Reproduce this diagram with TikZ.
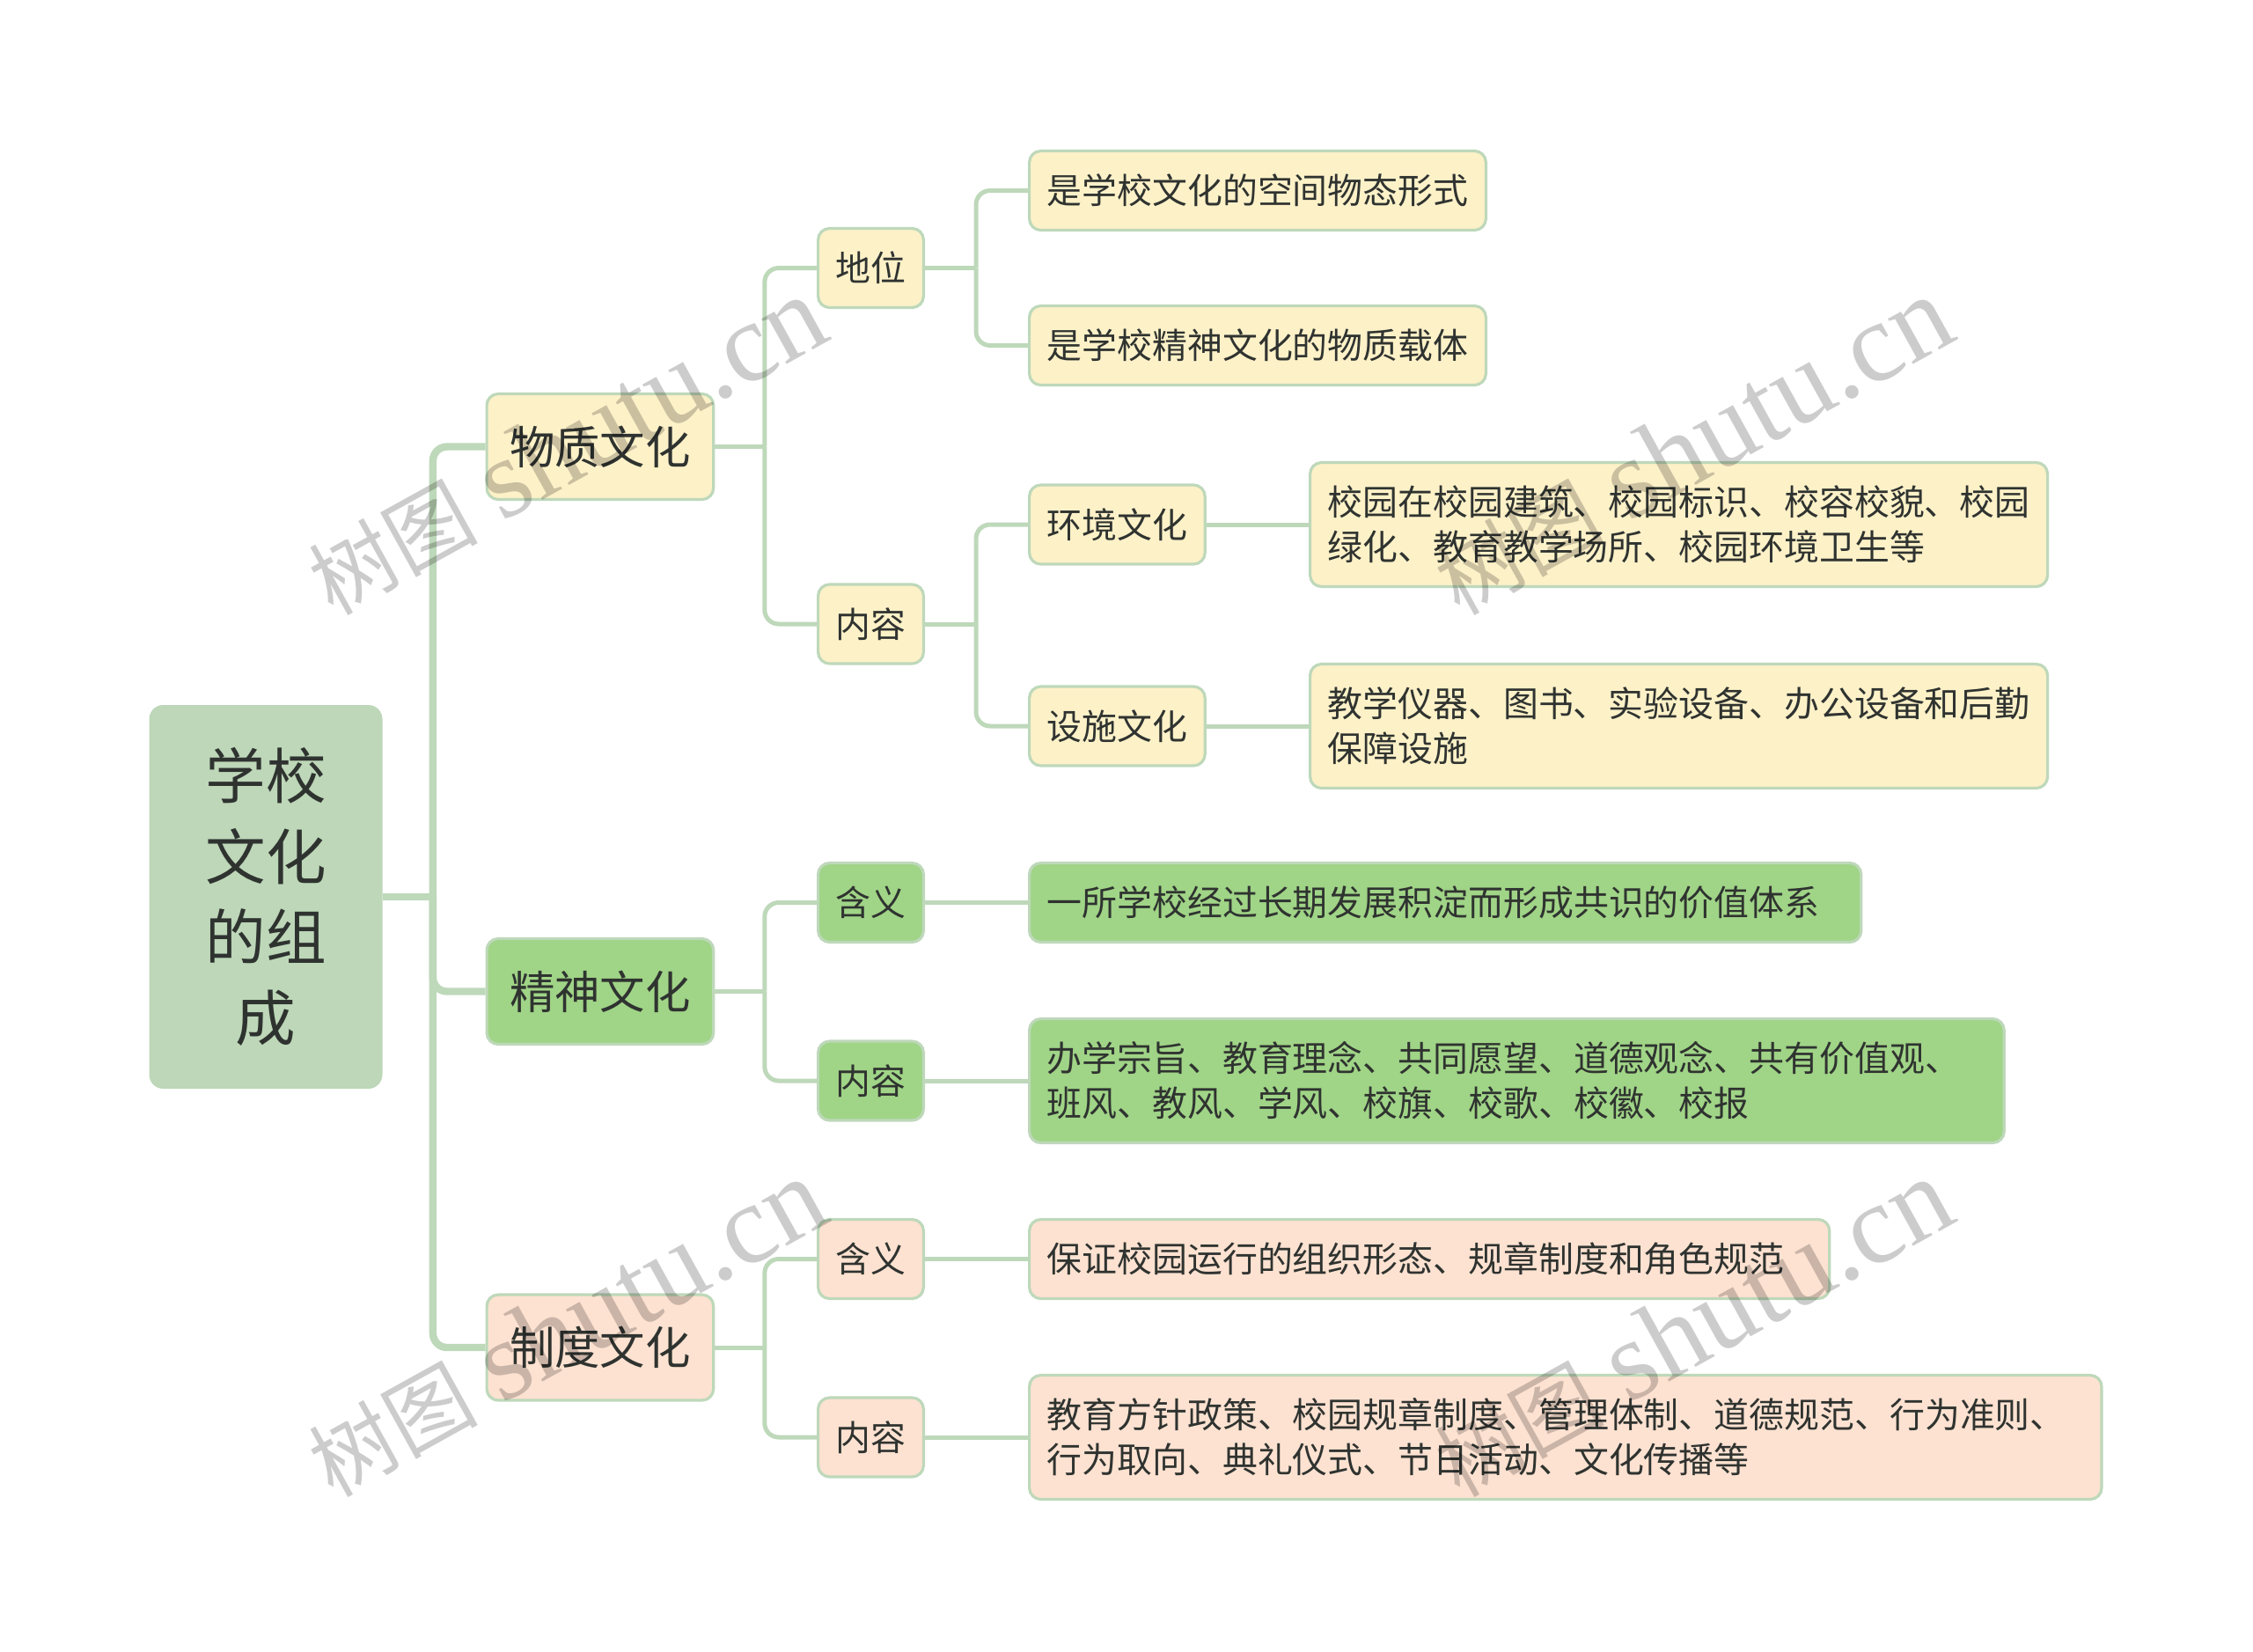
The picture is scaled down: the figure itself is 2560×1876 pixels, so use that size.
\documentclass[tikz,border=0pt]{standalone}
\usepackage{fontspec}
\setmainfont{Noto Sans CJK SC}
\newfontfamily\wmfont{Liberation Serif}
\definecolor{linegreen}{HTML}{BED8BA}
\definecolor{rootfill}{HTML}{BDD7B8}
\definecolor{yellowfill}{HTML}{FDF1C8}
\definecolor{greenfill}{HTML}{A0D487}
\definecolor{peachfill}{HTML}{FDE2D1}
\definecolor{inkcolor}{HTML}{2F3330}
\newcommand{\wmtext}{{\fontsize{48}{66}\selectfont 树图} \hspace{12pt}{\wmfont\fontsize{64}{66}\selectfont shutu.cn}}
\tikzset{
	rootbox/.style={fill=rootfill, rounded corners=8pt, minimum width=132.5pt, minimum height=218pt, inner sep=0pt, align=center, text=inkcolor, font=\fontsize{34.3}{45.8}\selectfont},
	topicbox/.style={draw=linegreen, line width=1.6pt, rounded corners=6.5pt, anchor=west, minimum height=60pt, inner xsep=13pt, inner ysep=0pt, text=inkcolor, font=\fontsize{25.7}{30}\selectfont},
	itembox/.style={draw=linegreen, line width=1.6pt, rounded corners=6.5pt, anchor=west, minimum height=45pt, inner xsep=10pt, inner ysep=0pt, align=left, text=inkcolor, font=\fontsize{19.95}{25.5}\selectfont},
	textbox/.style={itembox, minimum height=70.5pt},
	trunk/.style={draw=linegreen, line width=4.2pt, rounded corners=8pt},
	branch/.style={draw=linegreen, line width=2.5pt, rounded corners=8pt},
	wmark/.style={rotate=29, text=black, text opacity=0.2}
}
\begin{document}
\begin{tikzpicture}[x=0.5pt, y=-0.5pt]
	\useasboundingbox (0,0) rectangle (2560,1876);
	\node [rootbox] (root) at (302,1019) {学校\\文化\\的组\\成};

	\node [topicbox, fill=yellowfill] (wuzhi) at (551.5,507.5) {物质文化};
	\node [topicbox, fill=greenfill] (jingshen) at (551.5,1126.5) {精神文化};
	\node [topicbox, fill=peachfill] (zhidu) at (551.5,1531) {制度文化};

	\node [itembox, fill=yellowfill] (diwei) at (928,304.5) {地位};
	\node [itembox, fill=yellowfill] (neirongA) at (928,709) {内容};
	\node [itembox, fill=greenfill] (hanyiB) at (928,1025.5) {含义};
	\node [itembox, fill=greenfill] (neirongB) at (928,1228) {内容};
	\node [itembox, fill=peachfill] (hanyiC) at (928,1430.5) {含义};
	\node [itembox, fill=peachfill] (neirongC) at (928,1633) {内容};

	\node [itembox, fill=yellowfill] (kongjian) at (1168,216.5) {是学校文化的空间物态形式};
	\node [itembox, fill=yellowfill] (zaiti) at (1168,392.5) {是学校精神文化的物质载体};
	\node [itembox, fill=yellowfill] (huanjing) at (1168,596) {环境文化};
	\node [itembox, fill=yellowfill] (sheshi) at (1168,825) {设施文化};
	\node [textbox, fill=yellowfill] (huanjingtext) at (1487,596) {校园在校园建筑、校园标识、校容校貌、校园\\绿化、教育教学场所、校园环境卫生等};
	\node [textbox, fill=yellowfill] (sheshitext) at (1487,825) {教学仪器、图书、实验设备、办公设备和后勤\\保障设施};
	\node [itembox, fill=greenfill, text width=452.6pt] (hanyiBtext) at (1168,1025.5) {一所学校经过长期发展积淀而形成共识的价值体系};
	\node [textbox, fill=greenfill, text width=533.8pt] (neirongBtext) at (1168,1228) {办学宗旨、教育理念、共同愿望、道德观念、共有价值观、\\班风、教风、学风、校旗、校歌、校徽、校报};
	\node [itembox, fill=peachfill, text width=434.6pt] (hanyiCtext) at (1168,1430.5) {保证校园运行的组织形态、规章制度和角色规范};
	\node [textbox, fill=peachfill, text width=589.2pt] (neirongCtext) at (1168,1633) {教育方针政策、校园规章制度、管理体制、道德规范、行为准则、\\行为取向、典礼仪式、节日活动、文化传播等};

	\path (root.east) ++(57,0) coordinate (rootfork);
	\path (wuzhi.east) ++(56.5,0) coordinate (wuzhifork);
	\path (jingshen.east) ++(56.5,0) coordinate (jingshenfork);
	\path (zhidu.east) ++(56.5,0) coordinate (zhidufork);
	\path (diwei.east) ++(58,0) coordinate (diweifork);
	\path (neirongA.east) ++(58,0) coordinate (neirongfork);

	\draw [trunk] (root.east) -- (rootfork);
	\draw [trunk] (rootfork) |- (wuzhi.west);
	\draw [trunk] (rootfork) |- (jingshen.west);
	\draw [trunk] (rootfork) |- (zhidu.west);

	\draw [branch] (wuzhi.east) -- (wuzhifork);
	\draw [branch] (wuzhifork) |- (diwei.west);
	\draw [branch] (wuzhifork) |- (neirongA.west);
	\draw [branch] (jingshen.east) -- (jingshenfork);
	\draw [branch] (jingshenfork) |- (hanyiB.west);
	\draw [branch] (jingshenfork) |- (neirongB.west);
	\draw [branch] (zhidu.east) -- (zhidufork);
	\draw [branch] (zhidufork) |- (hanyiC.west);
	\draw [branch] (zhidufork) |- (neirongC.west);

	\draw [branch] (diwei.east) -- (diweifork);
	\draw [branch] (diweifork) |- (kongjian.west);
	\draw [branch] (diweifork) |- (zaiti.west);
	\draw [branch] (neirongA.east) -- (neirongfork);
	\draw [branch] (neirongfork) |- (huanjing.west);
	\draw [branch] (neirongfork) |- (sheshi.west);
	\draw [branch] (huanjing.east) -- (huanjingtext.west);
	\draw [branch] (sheshi.east) -- (sheshitext.west);
	\draw [branch] (hanyiB.east) -- (hanyiBtext.west);
	\draw [branch] (neirongB.east) -- (neirongBtext.west);
	\draw [branch] (hanyiC.east) -- (hanyiCtext.west);
	\draw [branch] (neirongC.east) -- (neirongCtext.west);

	\node [wmark] (markA) at (643,507) {\wmtext};
	\node [wmark] (markB) at (1923,507) {\wmtext};
	\node [wmark] (markC) at (643,1509) {\wmtext};
	\node [wmark] (markD) at (1923,1509) {\wmtext};
\end{tikzpicture}
\end{document}
